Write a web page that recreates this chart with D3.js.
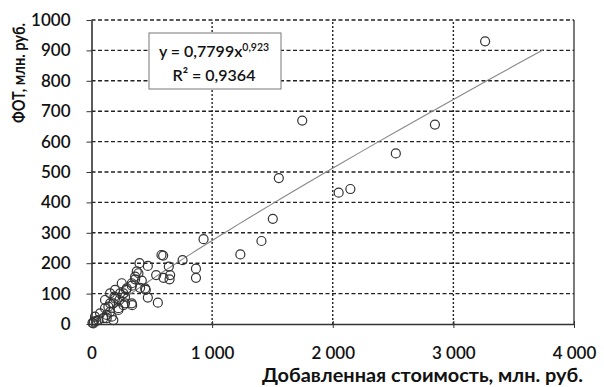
<!DOCTYPE html>
<html><head><meta charset="utf-8">
<script src="https://cdn.jsdelivr.net/npm/d3@7/dist/d3.min.js"></script>
<style>
body{margin:0;background:#fff;}
text{font-family:Lato,"Noto Sans",sans-serif;fill:#111;}
</style></head><body>
<svg id="c" width="604" height="387"></svg>
<script>
const xVals = [1747,1553,1503,1409,2049,2146,2523,2847,3263,929,1234,866,866,755,594,580,641,652,647,597,536,550,467,398,417,362,375,450,467,403,337,334,287,278,265,223,190,181,140,154,181,126,98,57,15,71,231,265,29,112,154,195,237,292,334,362,389,278,334,223,168,126,445,112,154,195,251,40,20,8];
const yVals = [669,480,346,273,432,444,561,656,930,279,229,182,152,210,225,227,189,161,147,152,161,70,191,200,143,147,173,112,87,119,62,126,112,90,62,52,90,68,57,40,13,30,19,13,2,35,79,101,24,52,68,84,101,117,134,156,167,68,68,46,24,19,117,79,101,112,134,10,8,4];
const xTicks = [0,1000,2000,3000,4000];
const xTickLabels = ["0","1 000","2 000","3 000","4 000"];
const yTicks = [0,100,200,300,400,500,600,700,800,900,1000];
const trendCoef = 0.544, trendExp = 0.901, trendStart = 5, trendEnd = 3750;
const eqText = "y = 0,7799x", eqExp = "0,923", r2Text = "R² = 0,9364";
const xTitle = "Добавленная стоимость, млн. руб.";
const yTitle = "ФОТ, млн. руб.";

const svg = d3.select("#c");
const x = d3.scaleLinear().domain([0,4000]).range([91.5,574]);
const y = d3.scaleLinear().domain([0,1000]).range([324,20]);

// horizontal grid (dashed)
svg.append("g").selectAll("line").data(yTicks.filter(d=>d>0)).join("line")
  .attr("x1",x(0)).attr("x2",x(4000)).attr("y1",d=>y(d)).attr("y2",d=>y(d))
  .attr("stroke","#222").attr("stroke-width",1.4).attr("stroke-dasharray","4,2.5");
// vertical grid (dotted)
svg.append("g").selectAll("line").data(xTicks.filter(d=>d>0&&d<4000)).join("line")
  .attr("x1",d=>x(d)).attr("x2",d=>x(d)).attr("y1",y(0)).attr("y2",y(1000))
  .attr("stroke","#222").attr("stroke-width",1.4).attr("stroke-dasharray","2,2");
// right border
svg.append("line").attr("x1",x(4000)).attr("x2",x(4000)).attr("y1",y(0)).attr("y2",y(1000))
  .attr("stroke","#222").attr("stroke-width",1.2);

// axes
const yAxis = d3.axisLeft(y).tickValues(yTicks).tickFormat(d3.format("d")).tickSize(5).tickPadding(16).tickSizeOuter(0);
const gy = svg.append("g").attr("transform",`translate(${x(0)},0)`).call(yAxis);
gy.select(".domain").attr("stroke","#333").attr("stroke-width",1.6);
gy.selectAll(".tick line").attr("stroke","#333");
gy.selectAll("text").style("font-size","17px").style("font-weight","600").attr("fill","#111");

const xAxis = d3.axisBottom(x).tickValues(xTicks).tickFormat((d,i)=>xTickLabels[i]).tickSize(4).tickPadding(19).tickSizeOuter(0);
const gx = svg.append("g").attr("transform",`translate(0,${y(0)})`).call(xAxis);
gx.select(".domain").attr("stroke","#333").attr("stroke-width",1.6);
gx.selectAll(".tick line").attr("stroke","#333").attr("y1",-3);
gx.selectAll("text").style("font-size","17px").style("font-weight","600").attr("fill","#111")
  .attr("xml:space","preserve").style("white-space","pre");

// trend line
const tx = d3.range(0,101).map(i=>trendStart*Math.pow(trendEnd/trendStart,i/100));
svg.append("path").datum(tx)
  .attr("d",d3.line().x(d=>x(d)).y(d=>y(trendCoef*Math.pow(d,trendExp))))
  .attr("fill","none").attr("stroke","#888").attr("stroke-width",1.1);

// points
svg.append("g").selectAll("circle").data(xVals.map((v,i)=>[v,yVals[i]])).join("circle")
  .attr("cx",d=>x(d[0])).attr("cy",d=>y(d[1])).attr("r",4.5)
  .attr("fill","none").attr("stroke","#333").attr("stroke-width",1.2);

// equation box
svg.append("rect").attr("x",149).attr("y",33).attr("width",132).attr("height",56)
  .attr("fill","#fff").attr("stroke","#777").attr("stroke-width",1);
const t1 = svg.append("text").attr("x",214).attr("y",57).attr("text-anchor","middle")
  .style("font-size","16px").style("font-weight","600");
t1.append("tspan").text(eqText);
t1.append("tspan").attr("dy",-6).style("font-size","10.5px").text(eqExp);
svg.append("text").attr("x",214).attr("y",81).attr("text-anchor","middle")
  .style("font-size","16px").style("font-weight","600").text(r2Text);

// titles
svg.append("text").attr("x",583).attr("y",382).attr("text-anchor","end")
  .attr("textLength",321).attr("lengthAdjust","spacingAndGlyphs")
  .style("font-size","18px").style("font-weight","bold").text(xTitle);
svg.append("text").attr("transform","translate(25,73) rotate(-90)").attr("text-anchor","middle")
  .attr("textLength",100).attr("lengthAdjust","spacingAndGlyphs")
  .style("font-size","16.5px").style("font-weight","bold").text(yTitle);
</script></body></html>
